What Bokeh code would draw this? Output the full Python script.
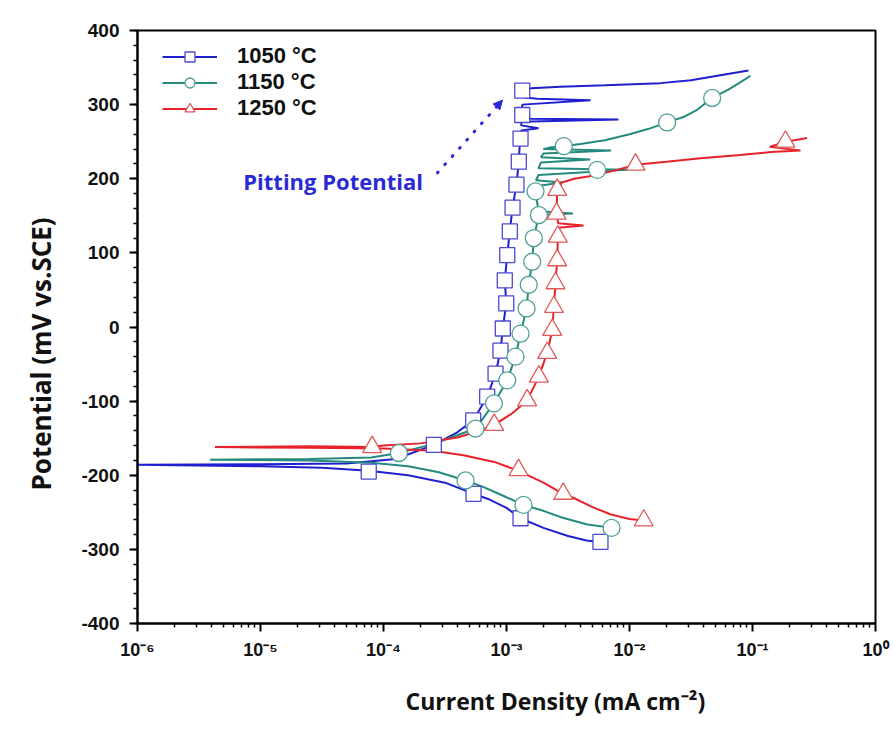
import numpy as np
from bokeh.plotting import figure
from bokeh.models import (FixedTicker, CustomJSTickFormatter, Label, Arrow,
                          NormalHead, Legend, LegendItem, Title)
from bokeh.embed import file_html
from bokeh.resources import INLINE

# ---------------- data (x stored as log10 of current density, mA cm^-2; y in mV vs SCE)
labels = ["1050 \u00b0C", "1150 \u00b0C", "1250 \u00b0C"]

blue_line_logi = [-2.236, -2.35, -2.5, -2.7, -2.886, -3.0, -3.15, -3.268, -3.5, -3.8, -4.12, -4.5, -5.0, -6.0,
                  -5.0, -4.3, -3.9, -3.591, -3.4, -3.271, -3.157, -3.089, -3.049, -3.030, -3.002, -3.014,
                  -2.994, -2.973, -2.951, -2.919, -2.900, -2.893, -2.886, -2.88, -2.74, -2.88, -2.88, -2.09,
                  -2.80, -2.875, -2.872, -2.872, -2.317, -2.75, -2.872, -2.872, -2.80, -2.561, -2.2, -1.748,
                  -1.5, -1.25, -1.033]
blue_line_e = [-290, -288, -282, -271, -258, -244, -232, -225, -210, -200, -194, -190, -188, -186,
               -185, -184, -178, -159, -142, -126, -94, -63, -32, -2, 32, 63,
               97, 129, 161, 192, 223, 245, 254, 265, 268, 272, 277, 280,
               281, 284, 286, 300, 306, 308, 310, 319, 322, 324, 326, 329,
               333, 340, 346]
blue_mark_logi = [-4.120, -3.268, -2.886, -2.236, -3.591, -3.271, -3.157, -3.089, -3.049, -3.030, -3.002,
                  -3.014, -2.994, -2.973, -2.951, -2.919, -2.900, -2.886, -2.872, -2.872]
blue_mark_e = [-195, -225, -258, -290, -159, -126, -94, -63, -32, -2, 32,
               63, 97, 129, 161, 192, 223, 254, 286, 319]

teal_line_logi = [-2.146, -2.35, -2.55, -2.70, -2.862, -3.05, -3.2, -3.333, -3.55, -3.8, -4.1, -4.6, -5.41,
                  -4.6, -4.1, -3.875, -3.6, -3.4, -3.252, -3.102, -2.994, -2.927, -2.886, -2.837, -2.819,
                  -2.791, -2.778, -2.737, -2.46, -2.74, -2.764, -2.76, -2.55, -2.76, -2.74, -2.02, -2.74,
                  -2.72, -2.32, -2.72, -2.70, -2.15, -2.70, -2.65, -2.534, -2.4, -2.2, -2.0, -1.85, -1.694,
                  -1.55, -1.45, -1.328, -1.2, -1.1, -1.016]
teal_line_e = [-271, -266, -257, -248, -240, -226, -215, -207, -196, -188, -183, -180, -179,
               -178, -176, -170, -158, -146, -137, -103, -72, -40, -9, 25, 57,
               88, 120, 151, 153, 156, 183, 190, 195, 198, 205, 212, 214,
               222, 226, 229, 234, 238, 240, 242, 244, 247, 252, 260, 267, 276,
               284, 293, 309, 320, 330, 339]
teal_mark_logi = [-3.333, -2.862, -2.146, -3.875, -3.252, -3.102, -2.994, -2.927, -2.886, -2.837, -2.819,
                  -2.791, -2.778, -2.737, -2.764, -2.263, -2.534, -1.694, -1.328]
teal_mark_e = [-207, -240, -271, -170, -137, -103, -72, -40, -9, 25, 57,
               88, 120, 151, 183, 212, 244, 276, 309]

red_line_logi = [-1.884, -2.0, -2.15, -2.3, -2.45, -2.539, -2.7, -2.902, -3.1, -3.35, -3.6, -4.0, -4.6, -5.37,
                 -4.6, -4.092, -4.0, -3.7, -3.4, -3.2, -3.10, -2.95, -2.832, -2.737, -2.669, -2.628, -2.615,
                 -2.602, -2.588, -2.585, -2.583, -2.58, -2.374, -2.58, -2.593, -2.588, -2.55, -2.45, -2.3,
                 -2.1, -1.951, -1.7, -1.4, -1.1, -0.85, -0.61, -0.86, -0.732, -0.556]
red_line_e = [-261, -259, -253, -243, -231, -225, -210, -194, -182, -173, -167, -164, -163, -162,
              -161, -162, -160, -157, -149, -139, -132, -116, -99, -67, -35, -4, 27,
              59, 90, 105, 122, 134, 137, 140, 153, 185, 195, 200, 204,
              212, 219, 223, 228, 232, 236, 238, 243, 250, 255]
red_mark_logi = [-2.902, -2.539, -1.884, -4.092, -3.10, -2.832, -2.737, -2.669, -2.628, -2.615, -2.602,
                 -2.588, -2.583, -2.593, -2.588, -1.951, -0.732]
red_mark_e = [-193, -225, -261, -162, -132, -99, -67, -35, -4, 27, 59,
              90, 122, 153, 185, 219, 250]

x_major = [1e-6, 1e-5, 1e-4, 1e-3, 1e-2, 1e-1, 1e0]
y_major = list(range(-400, 401, 100))

x_title = "Current Density (mA cm\u207b\u00b2)"
y_title = "Potential (mV vs.SCE)"

annot_text = "Pitting Potential"
annot_text_pos = (-5.14, 197)          # (log10 i, mV)
annot_arrow = (-3.561, 208, -3.033, 306)  # start (log10 i, mV) -> end

# ---------------- styling
BLUE, BLUE_M = "#1f1fcf", "#4a4ad0"
TEAL, TEAL_M = "#248a7e", "#4f9f95"
RED, RED_M = "#e8222a", "#e05a5a"

p = figure(width=893, height=738, x_axis_type="log",
           x_range=(1e-6, 1), y_range=(-400, 400),
           output_backend="svg", toolbar_location=None,
           min_border_left=137, min_border_right=18, min_border_top=30, min_border_bottom=115,
           background_fill_color="white", border_fill_color="white")
p.grid.visible = False
p.outline_line_color = "black"
p.outline_line_width = 2

def X(a):
    return 10 ** np.array(a, dtype=float)

lb = p.line(X(blue_line_logi), blue_line_e, line_color=BLUE, line_width=2)
lt = p.line(X(teal_line_logi), teal_line_e, line_color=TEAL, line_width=2)
lr = p.line(X(red_line_logi), red_line_e, line_color=RED, line_width=2)

mb = p.scatter(X(blue_mark_logi), blue_mark_e, marker="square", size=15,
               line_color=BLUE_M, fill_color="white", line_width=1.3)
mt = p.scatter(X(teal_mark_logi), teal_mark_e, marker="circle", size=17,
               line_color=TEAL_M, fill_color="white", line_width=1.3)
mr = p.scatter(X(red_mark_logi), red_mark_e, marker="triangle", size=19,
               line_color=RED_M, fill_color="white", line_width=1.3)

# annotation
p.add_layout(Label(x=10 ** annot_text_pos[0], y=annot_text_pos[1], text=annot_text,
                   text_font="Open Sans", text_font_style="bold", text_font_size="22px",
                   text_color="#2a2ad6", text_align="left", text_baseline="middle"))
p.add_layout(Arrow(x_start=10 ** annot_arrow[0], y_start=annot_arrow[1],
                   x_end=10 ** annot_arrow[2], y_end=annot_arrow[3],
                   line_color="#2a2ad6", line_width=3, line_dash="1 10", line_cap="round",
                   end=NormalHead(size=9, fill_color="#2a2ad6", line_color="#2a2ad6", line_width=1)))

# axis titles (as side-panel titles so they can sit off-centre like the original)
p.add_layout(Title(text=x_title, align="left", offset=268, standoff=41,
                   text_font="Open Sans", text_font_style="bold", text_font_size="23px",
                   text_color="#111111"), "below")
p.add_layout(Title(text=y_title, align="left", offset=133, standoff=40,
                   text_font="Open Sans", text_font_style="bold", text_font_size="26px",
                   text_color="#111111"), "left")

# legend
legend = Legend(items=[LegendItem(label=labels[0], renderers=[lb, mb]),
                       LegendItem(label=labels[1], renderers=[lt, mt]),
                       LegendItem(label=labels[2], renderers=[lr, mr])],
                location=(25, 502), glyph_width=55, glyph_height=25, spacing=0,
                padding=5, margin=0, label_standoff=20,
                label_text_font="Liberation Sans", label_text_font_style="bold",
                label_text_font_size="22px", label_text_color="#111111",
                border_line_color=None, background_fill_alpha=0)
p.add_layout(legend)

# axes
xfmt = CustomJSTickFormatter(code="""
const e = Math.round(Math.log10(tick));
const sup = {'-':'\u207b','0':'\u2070','1':'\u00b9','2':'\u00b2','3':'\u00b3','4':'\u2074',
             '5':'\u2075','6':'\u2076','7':'\u2077','8':'\u2078','9':'\u2079'};
return '10' + String(e).split('').map(c => sup[c]).join('');
""")
yfmt = CustomJSTickFormatter(code="return String(Math.round(tick));")
minor_x = [m * 10.0 ** e for e in range(-6, 0) for m in range(2, 10)]
p.xaxis.ticker = FixedTicker(ticks=x_major, minor_ticks=minor_x)
p.xaxis.formatter = xfmt
p.yaxis.ticker = FixedTicker(ticks=y_major, minor_ticks=list(range(-400, 401, 20)))
p.yaxis.formatter = yfmt

for ax in (p.xaxis[0], p.yaxis[0]):
    ax.axis_line_width = 2
    ax.major_tick_line_width = 2
    ax.minor_tick_line_width = 1.5
    ax.major_tick_out = 8
    ax.major_tick_in = 0
    ax.minor_tick_out = 4
    ax.minor_tick_in = 0
    ax.major_label_text_font = "Liberation Sans"
    ax.major_label_text_font_style = "bold"
    ax.major_label_text_color = "#111111"

p.yaxis.major_label_text_font_size = "19px"
p.xaxis.major_label_text_font_size = "18px"
p.yaxis.major_label_standoff = 10
p.xaxis.major_label_standoff = 8

open("out.html", "w").write(file_html(p, INLINE))
